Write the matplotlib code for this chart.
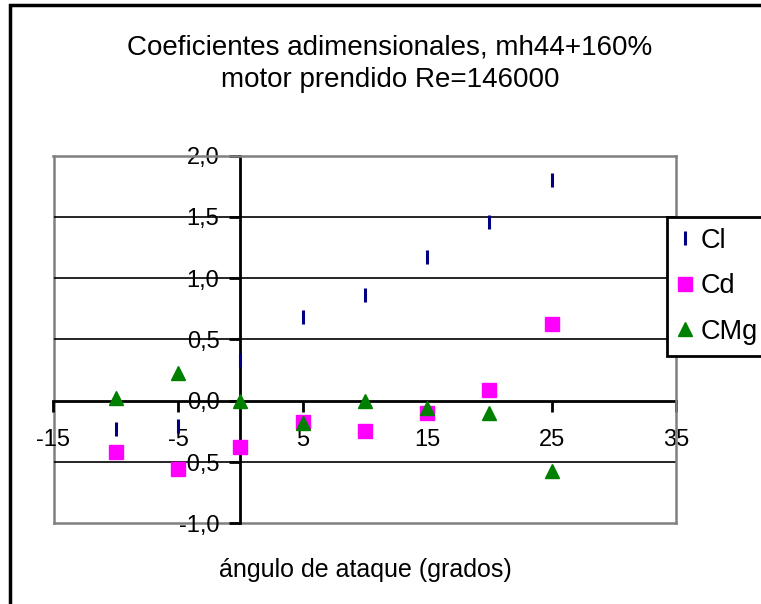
import numpy as np
import matplotlib.pyplot as plt
from matplotlib.patches import Rectangle
from matplotlib.ticker import FuncFormatter

plt.rcParams['font.family'] = ['Liberation Sans', 'DejaVu Sans']

# ángulo de ataque (grados)
alpha = [-10, -5, 0, 5, 10, 15, 20, 25]
cl = [-0.23, -0.21, 0.33, 0.68, 0.86, 1.17, 1.46, 1.80]
cd = [-0.42, -0.56, -0.38, -0.17, -0.25, -0.10, 0.09, 0.63]
cmg = [0.02, 0.23, 0.0, -0.18, 0.0, -0.06, -0.10, -0.57]

x_ticks = [-15, -5, 5, 15, 25, 35]
y_ticks = [-1.0, -0.5, 0.0, 0.5, 1.0, 1.5, 2.0]

W, H = 761, 604
fig = plt.figure(figsize=(W / 100, H / 100), dpi=100)
ax = fig.add_axes([53.5 / W, 1 - 523.3 / H, (676 - 53.5) / W, (523.3 - 155.7) / H])

ax.set_xlim(-15, 35)
ax.set_ylim(-1, 2)

# horizontal gridlines
for yv in [-0.5, 0.5, 1.0, 1.5]:
    ax.axhline(yv, color='black', lw=1.2, zorder=1)

l1, = ax.plot(alpha, cl, ls='none', marker='|', ms=9.5, mew=2.2, color='#000080', zorder=3)
l2, = ax.plot(alpha, cd, ls='none', marker='s', ms=9.5, color='#ff00ff', zorder=3)
l3, = ax.plot(alpha, cmg, ls='none', marker='^', ms=10, color='#008000', zorder=4)

# axes crossing at zero, plot area framed in gray
ax.spines['left'].set_position(('data', 0))
ax.spines['bottom'].set_position(('data', 0))
for s in ['left', 'bottom']:
    ax.spines[s].set_color('black')
    ax.spines[s].set_linewidth(2)
    ax.spines[s].set_zorder(2)
for s in ['top', 'right']:
    ax.spines[s].set_color('#808080')
    ax.spines[s].set_linewidth(1.8)
for xy in [([0, 0], [0, 1]), ([0, 1], [0, 0])]:
    ax.plot(*xy, transform=ax.transAxes, color='#808080', lw=1.8, clip_on=False, zorder=0)

ax.set_xticks(x_ticks)
ax.set_yticks(y_ticks)
ax.xaxis.set_major_formatter(FuncFormatter(lambda v, p: f'{v:.0f}'))
ax.yaxis.set_major_formatter(FuncFormatter(lambda v, p: f'{v:.1f}'.replace('.', ',')))
ax.tick_params(axis='both', direction='out', length=8, width=2, color='black',
               labelsize=17, labelcolor='black')
ax.tick_params(axis='x', pad=12)
ax.tick_params(axis='y', pad=7)

fig.text(390 / W, 1 - 47 / H, 'Coeficientes adimensionales, mh44+160%',
         ha='center', va='center', fontsize=20)
fig.text(390 / W, 1 - 80 / H, 'motor prendido Re=146000',
         ha='center', va='center', fontsize=20)
fig.text(365.5 / W, 1 - 570 / H, 'ángulo de ataque (grados)',
         ha='center', va='center', fontsize=18)

leg = fig.legend([l1, l2, l3], ['Cl', 'Cd', 'CMg'], loc='upper left',
                 bbox_to_anchor=(667 / W, 1 - 217 / H), fontsize=19.5,
                 frameon=True, fancybox=False, framealpha=1, borderpad=0.4,
                 handlelength=0.5, handletextpad=0.35, labelspacing=0.72,
                 borderaxespad=0)
leg.get_frame().set_edgecolor('black')
leg.get_frame().set_linewidth(2)

# outer chart border
fig.patches.append(Rectangle((10 / W, -0.1), 1.2, 1.1 - 5 / H,
                             transform=fig.transFigure, fill=False,
                             edgecolor='black', lw=2.5))

fig.savefig('out.png', dpi=100)
